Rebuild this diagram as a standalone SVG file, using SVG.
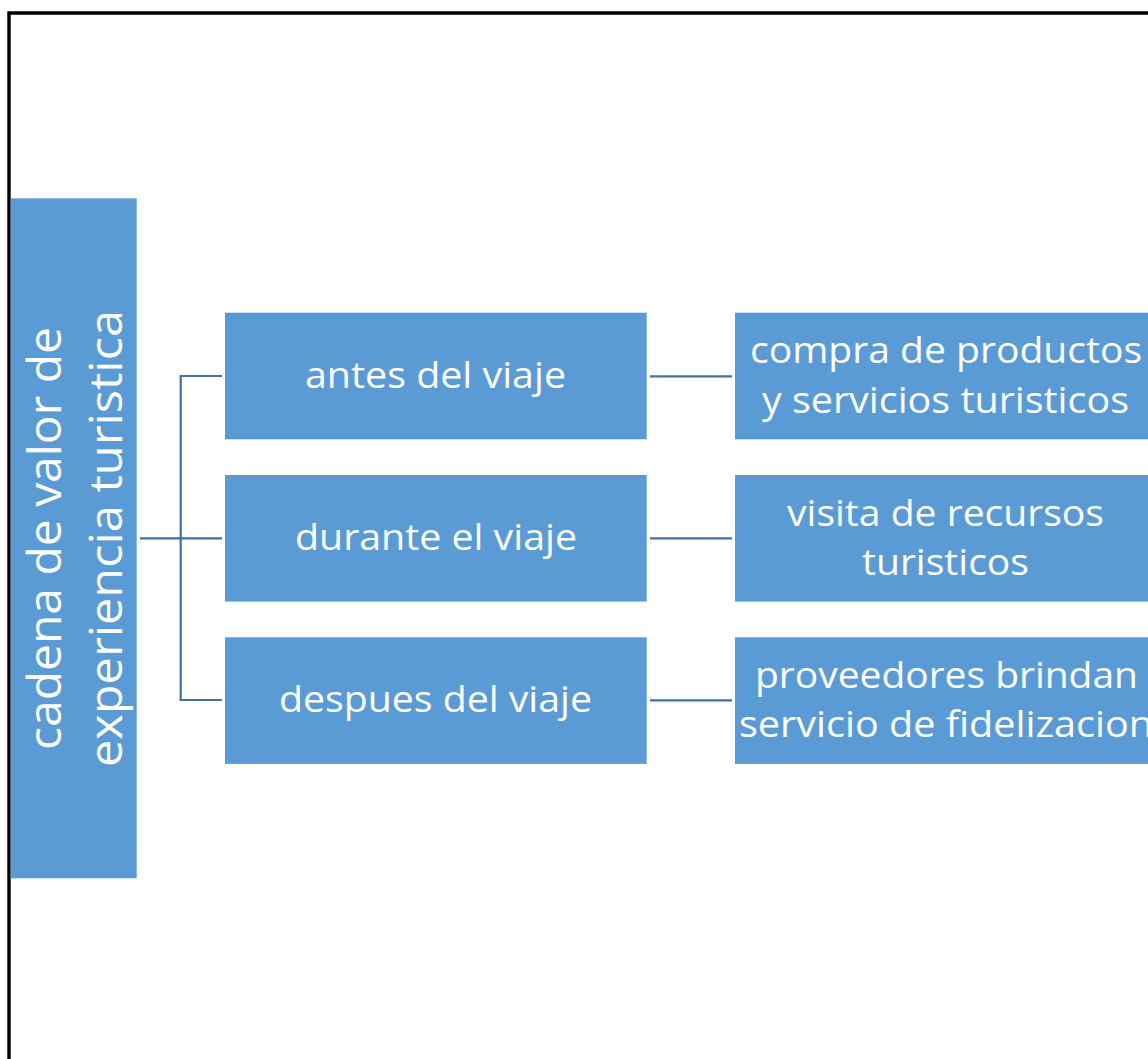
<svg xmlns="http://www.w3.org/2000/svg" width="1148" height="1059" viewBox="0 0 1148 1059">
<style>
.box{fill:#5B9BD5}
.t{fill:#FFFFFF;font-family:"Open Sans","Liberation Sans",sans-serif;font-size:37px;text-anchor:middle}
.tl{fill:#FFFFFF;font-family:"Open Sans","Liberation Sans",sans-serif;font-size:46px;text-anchor:middle}
.c{fill:none;stroke:#41719C;stroke-width:2.2}
</style>
<rect width="1148" height="1059" fill="#FFFFFF"/>
<path d="M9,1059 V13 H1148" fill="none" stroke="#000000" stroke-width="3.4"/>
<g id="connectors">
<path class="c" d="M140,538.3 H222"/>
<path class="c" d="M222,376 H180.7 V700 H222"/>
<path class="c" d="M650,376.3 H732"/>
<path class="c" d="M650,538.3 H732"/>
<path class="c" d="M650,700.3 H732"/>
</g>
<g id="root">
<rect class="box" x="10.7" y="198.3" width="126" height="680"/>
<g transform="translate(61,538.5) rotate(-90)"><text class="tl" x="0" y="0" textLength="423" lengthAdjust="spacingAndGlyphs">cadena de valor de</text></g>
<g transform="translate(122,538.5) rotate(-90)"><text class="tl" x="0" y="0" textLength="457" lengthAdjust="spacingAndGlyphs">experiencia turistica</text></g>
</g>
<g id="antes">
<rect class="box" x="225" y="312.7" width="421.7" height="126.6"/>
<text class="t" x="435.5" y="387.5" textLength="261" lengthAdjust="spacingAndGlyphs">antes del viaje</text>
</g>
<g id="durante">
<rect class="box" x="225" y="475" width="421.7" height="126.6"/>
<text class="t" x="436" y="550" textLength="282" lengthAdjust="spacingAndGlyphs">durante el viaje</text>
</g>
<g id="despues">
<rect class="box" x="225" y="637.3" width="421.7" height="126.6"/>
<text class="t" x="435.5" y="712" textLength="313" lengthAdjust="spacingAndGlyphs">despues del viaje</text>
</g>
<g id="compra">
<rect class="box" x="735" y="312.7" width="422" height="126.6"/>
<text class="t" x="946" y="363" textLength="392" lengthAdjust="spacingAndGlyphs">compra de productos</text>
<text class="t" x="945.5" y="413" textLength="367" lengthAdjust="spacingAndGlyphs">y servicios turisticos</text>
</g>
<g id="visita">
<rect class="box" x="735" y="475" width="422" height="126.6"/>
<text class="t" x="945.5" y="526" textLength="317" lengthAdjust="spacingAndGlyphs">visita de recursos</text>
<text class="t" x="945.5" y="575" textLength="167" lengthAdjust="spacingAndGlyphs">turisticos</text>
</g>
<g id="proveedores">
<rect class="box" x="735" y="637.3" width="422" height="126.6"/>
<text class="t" x="946.5" y="688" textLength="383" lengthAdjust="spacingAndGlyphs">proveedores brindan</text>
<text class="t" x="946" y="737" textLength="414" lengthAdjust="spacingAndGlyphs">servicio de fidelizacion</text>
</g>
</svg>
